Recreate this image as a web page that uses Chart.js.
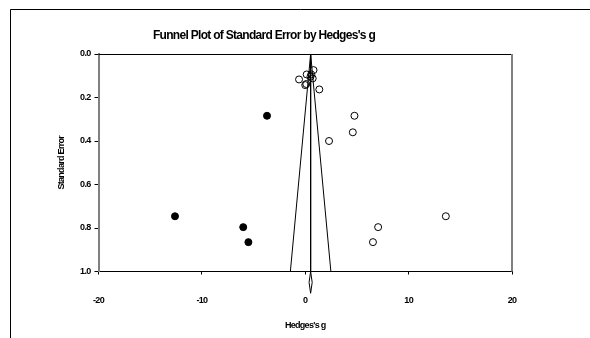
<!DOCTYPE html>
<html>
<head>
<meta charset="utf-8">
<script src="https://cdn.jsdelivr.net/npm/chart.js@4/dist/chart.umd.min.js"></script>
<style>
  html, body { margin: 0; padding: 0; background: #fff; }
  #wrap { width: 590px; height: 338px; }
</style>
</head>
<body>
<div id="wrap"><canvas id="myChart" width="590" height="338"></canvas></div>
<script>
// observed studies (open circles)
var observedG  = [-0.6, 0.14, 0.8, 0.58, 0.0, 0.1, 0.72, 0.5, 1.36, 4.76, 4.6, 2.3, 13.6, 7.05, 6.55];
var observedSE = [0.117, 0.094, 0.074, 0.094, 0.143, 0.138, 0.112, 0.105, 0.163, 0.284, 0.36, 0.40, 0.746, 0.796, 0.865];
// imputed studies (filled circles)
var imputedG  = [-12.6, -6.0, -5.5, -3.7];
var imputedSE = [0.746, 0.796, 0.865, 0.284];
// combined effect and diamond
var meanG = 0.52;
var diamondHalf = 0.15;
var xTicks = [-20, -10, 0, 10, 20];
var yTicks = [0.0, 0.2, 0.4, 0.6, 0.8, 1.0];

var FONT = '"Liberation Sans Narrow", "Liberation Sans", Arial, sans-serif';

function pts(xs, ys) {
  return xs.map(function(x, i) { return { x: x, y: ys[i] }; });
}

var frame = {
  id: 'frame',
  beforeDraw: function(chart) {
    // squeeze the text a bit, the original font is a condensed one
    chart.ctx.letterSpacing = '-0.7px';
  },
  afterDraw: function(chart) {
    var c = chart.ctx, a = chart.chartArea;
    c.save();
    // outer box
    c.strokeStyle = '#000';
    c.lineWidth = 1;
    c.beginPath();
    c.moveTo(10.5, 338);
    c.lineTo(10.5, 9.5);
    c.lineTo(590, 9.5);
    c.stroke();
    // top of plot
    c.beginPath();
    c.moveTo(a.left, a.top + 0.5);
    c.lineTo(a.right, a.top + 0.5);
    c.stroke();
    // right of plot
    c.strokeStyle = '#808080';
    c.lineWidth = 2;
    c.beginPath();
    c.moveTo(a.right, a.top);
    c.lineTo(a.right, a.bottom);
    c.stroke();
    c.restore();
  }
};

document.addEventListener("DOMContentLoaded", function(event) {
  var ctx = document.getElementById('myChart').getContext('2d');

  var data = {
    datasets: [
      {
        label: 'Funnel',
        data: [{ x: meanG - 1.96, y: 1 }, { x: meanG, y: 0 }, { x: meanG + 1.96, y: 1 }],
        showLine: true, borderColor: '#000', borderWidth: 1, pointRadius: 0, fill: false
      },
      {
        label: 'Mean',
        data: [{ x: meanG, y: 0 }, { x: meanG, y: 1 }],
        showLine: true, borderColor: '#000', borderWidth: 1, pointRadius: 0
      },
      {
        label: 'Diamond',
        data: [{ x: meanG, y: 1 }, { x: meanG + diamondHalf, y: 1.05 }, { x: meanG, y: 1.1 },
               { x: meanG - diamondHalf, y: 1.05 }, { x: meanG, y: 1 }],
        showLine: true, borderColor: '#000', borderWidth: 1, pointRadius: 0, clip: false
      },
      {
        label: 'Observed',
        data: pts(observedG, observedSE),
        pointStyle: 'circle', pointRadius: 3.5, borderWidth: 1,
        borderColor: '#000', backgroundColor: 'rgba(255,255,255,0)'
      },
      {
        label: 'Imputed',
        data: pts(imputedG, imputedSE),
        pointStyle: 'circle', pointRadius: 3.5, borderWidth: 1,
        borderColor: '#000', backgroundColor: '#000'
      }
    ]
  };

  var options = {
    responsive: false,
    animation: false,
    layout: { padding: { left: 16, right: 78, top: 0, bottom: 0 } },
    plugins: {
      legend: { display: false },
      tooltip: { enabled: false },
      title: {
        display: true,
        text: "Funnel Plot of Standard Error by Hedges's g",
        color: '#000',
        font: { family: FONT, size: 12, weight: 'bold', lineHeight: 1.2 },
        padding: { top: 28, bottom: 11.6 }
      }
    },
    scales: {
      x: {
        type: 'linear',
        min: -20, max: 20,
        afterBuildTicks: function(s) { s.ticks = xTicks.map(function(v) { return { value: v }; }); },
        afterFit: function(s) { s.height = 338 - 271.5; },
        grid: { drawOnChartArea: false, drawTicks: true, tickLength: 3, color: '#000' },
        border: { display: true, color: '#000', width: 1 },
        ticks: {
          color: '#000', padding: 21, maxRotation: 0,
          font: { family: FONT, size: 9, weight: 'bold' },
          callback: function(v) { return String(v); }
        },
        title: {
          display: true, text: "Hedges's g", color: '#000',
          font: { family: FONT, size: 9, weight: 'bold', lineHeight: 1.2 },
          padding: { top: 0, bottom: 6.6 }
        }
      },
      y: {
        type: 'linear',
        reverse: true,
        min: 0, max: 1,
        afterBuildTicks: function(s) { s.ticks = yTicks.map(function(v) { return { value: v }; }); },
        afterFit: function(s) { s.width = 98.5 - 16; },
        grid: { drawOnChartArea: false, drawTicks: true, tickLength: 4, color: '#000' },
        border: { display: true, color: '#808080', width: 2 },
        ticks: {
          color: '#000', padding: 4,
          font: { family: FONT, size: 9, weight: 'bold' },
          callback: function(v) { return Number(v).toFixed(1); }
        },
        title: {
          display: true, text: 'Standard Error', color: '#000',
          font: { family: FONT, size: 9, weight: 'bold', lineHeight: 1.2 },
          padding: { top: 40, bottom: 0 }
        }
      }
    }
  };

  var myChart = new Chart(ctx, {
    type: 'scatter',
    data: data,
    options: options,
    plugins: [frame]
  });
});
</script>
</body>
</html>
